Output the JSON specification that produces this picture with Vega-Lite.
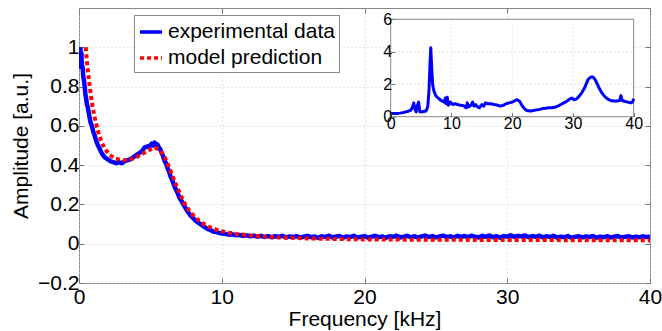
{
  "$schema": "https://vega.github.io/schema/vega-lite/v6.json",
  "width": 571,
  "height": 275,
  "autosize": {"type": "none"},
  "padding": {"left": 79, "top": 8, "right": 12, "bottom": 48},
  "background": "white",
  "config": {
    "font": "Liberation Sans",
    "view": {"stroke": "#888888", "strokeWidth": 1},
    "axis": {
      "labelFont": "Liberation Sans",
      "titleFont": "Liberation Sans",
      "labelColor": "#000000",
      "titleColor": "#000000",
      "titleFontWeight": "normal",
      "domain": false,
      "labelFlush": false,
      "tickColor": "#777777",
      "tickSize": -5,
      "gridColor": "#c8c8c8",
      "gridDash": [1, 3],
      "gridWidth": 1
    },
    "legend": {
      "labelFont": "Liberation Sans"
    }
  },
  "datasets": {
    "exp": [
      {"f":0.1,"a":1.0},{"f":0.13,"a":0.9},{"f":0.17,"a":0.97},{"f":0.2,"a":0.9},{"f":0.25,"a":0.9},{"f":0.3,"a":0.85},{"f":0.35,"a":0.83},{"f":0.4,"a":0.8},{"f":0.45,"a":0.76},{"f":0.5,"a":0.74},{"f":0.55,"a":0.71},{"f":0.6,"a":0.7},{"f":0.7,"a":0.66},{"f":0.8,"a":0.62},{"f":0.9,"a":0.6},{"f":1.0,"a":0.57},{"f":1.1,"a":0.55},{"f":1.2,"a":0.525},{"f":1.3,"a":0.505},{"f":1.4,"a":0.49},{"f":1.5,"a":0.475},{"f":1.6,"a":0.46},{"f":1.7,"a":0.45},{"f":1.8,"a":0.44},{"f":1.9,"a":0.435},{"f":2.0,"a":0.43},{"f":2.2,"a":0.42},{"f":2.4,"a":0.415},{"f":2.6,"a":0.41},{"f":2.8,"a":0.415},{"f":3.0,"a":0.41},{"f":3.2,"a":0.42},{"f":3.4,"a":0.425},{"f":3.6,"a":0.43},{"f":3.8,"a":0.44},{"f":4.0,"a":0.45},{"f":4.2,"a":0.46},{"f":4.4,"a":0.47},{"f":4.6,"a":0.49},{"f":4.8,"a":0.495},{"f":5.0,"a":0.5},{"f":5.1,"a":0.51},{"f":5.2,"a":0.5},{"f":5.3,"a":0.515},{"f":5.4,"a":0.5},{"f":5.5,"a":0.505},{"f":5.6,"a":0.49},{"f":5.7,"a":0.48},{"f":5.8,"a":0.46},{"f":5.9,"a":0.445},{"f":6.0,"a":0.42},{"f":6.1,"a":0.41},{"f":6.2,"a":0.385},{"f":6.3,"a":0.37},{"f":6.4,"a":0.345},{"f":6.5,"a":0.33},{"f":6.6,"a":0.31},{"f":6.7,"a":0.29},{"f":6.8,"a":0.275},{"f":6.9,"a":0.26},{"f":7.0,"a":0.24},{"f":7.2,"a":0.215},{"f":7.4,"a":0.19},{"f":7.6,"a":0.165},{"f":7.8,"a":0.145},{"f":8.0,"a":0.13},{"f":8.2,"a":0.115},{"f":8.4,"a":0.105},{"f":8.6,"a":0.095},{"f":8.8,"a":0.085},{"f":9.0,"a":0.075},{"f":9.2,"a":0.07},{"f":9.4,"a":0.062},{"f":9.6,"a":0.06},{"f":9.8,"a":0.055},{"f":10,"a":0.052},{"f":10.25,"a":0.05},{"f":10.5,"a":0.046},{"f":10.75,"a":0.047},{"f":11,"a":0.043},{"f":11.25,"a":0.044},{"f":11.5,"a":0.04},{"f":11.75,"a":0.042},{"f":12,"a":0.038},
      {"f":12.25,"a":0.041},{"f":12.5,"a":0.036},{"f":12.75,"a":0.04},{"f":13,"a":0.034},{"f":13.25,"a":0.039},{"f":13.5,"a":0.033},{"f":13.75,"a":0.038},{"f":14,"a":0.035},{"f":14.25,"a":0.04},{"f":14.5,"a":0.032},{"f":14.75,"a":0.037},{"f":15,"a":0.034},{"f":15.25,"a":0.039},{"f":15.5,"a":0.031},{"f":15.75,"a":0.036},{"f":16,"a":0.04},{"f":16.25,"a":0.033},{"f":16.5,"a":0.037},{"f":16.75,"a":0.03},{"f":17,"a":0.038},{"f":17.25,"a":0.034},{"f":17.5,"a":0.041},{"f":17.75,"a":0.032},{"f":18,"a":0.036},{"f":18.25,"a":0.039},{"f":18.5,"a":0.031},{"f":18.75,"a":0.037},{"f":19,"a":0.034},{"f":19.25,"a":0.04},{"f":19.5,"a":0.032},{"f":19.75,"a":0.035},{"f":20,"a":0.039},{"f":20.25,"a":0.031},{"f":20.5,"a":0.036},{"f":20.75,"a":0.04},{"f":21,"a":0.033},{"f":21.25,"a":0.037},{"f":21.5,"a":0.03},{"f":21.75,"a":0.038},{"f":22,"a":0.035},{"f":22.25,"a":0.041},{"f":22.5,"a":0.032},{"f":22.75,"a":0.036},{"f":23,"a":0.04},{"f":23.25,"a":0.033},{"f":23.5,"a":0.038},{"f":23.75,"a":0.031},{"f":24,"a":0.037},{"f":24.25,"a":0.042},{"f":24.5,"a":0.034},{"f":24.75,"a":0.039},{"f":25,"a":0.032},{"f":25.25,"a":0.037},{"f":25.5,"a":0.041},{"f":25.75,"a":0.034},{"f":26,"a":0.038},{"f":26.25,"a":0.031},{"f":26.5,"a":0.04},{"f":26.75,"a":0.035},{"f":27,"a":0.039},{"f":27.25,"a":0.033},{"f":27.5,"a":0.041},{"f":27.75,"a":0.036},{"f":28,"a":0.032},{"f":28.25,"a":0.04},{"f":28.5,"a":0.035},{"f":28.75,"a":0.042},{"f":29,"a":0.033},{"f":29.25,"a":0.038},{"f":29.5,"a":0.031},{"f":29.75,"a":0.039},{"f":30,"a":0.036},{"f":30.25,"a":0.043},{"f":30.5,"a":0.034},{"f":30.75,"a":0.04},{"f":31,"a":0.037},{"f":31.25,"a":0.042},{"f":31.5,"a":0.033},{"f":31.75,"a":0.039},{"f":32,"a":0.035},{"f":32.25,"a":0.041},{"f":32.5,"a":0.032},{"f":32.75,"a":0.038},{"f":33,"a":0.034},{"f":33.25,"a":0.04},{"f":33.5,"a":0.031},{"f":33.75,"a":0.036},{"f":34,"a":0.033},{"f":34.25,"a":0.039},{"f":34.5,"a":0.03},{"f":34.75,"a":0.035},{"f":35,"a":0.038},{"f":35.25,"a":0.032},{"f":35.5,"a":0.037},{"f":35.75,"a":0.034},{"f":36,"a":0.039},{"f":36.25,"a":0.031},{"f":36.5,"a":0.036},{"f":36.75,"a":0.033},{"f":37,"a":0.038},{"f":37.25,"a":0.032},{"f":37.5,"a":0.036},{"f":37.75,"a":0.039},{"f":38,"a":0.031},{"f":38.25,"a":0.035},{"f":38.5,"a":0.038},{"f":38.75,"a":0.032},{"f":39,"a":0.036},{"f":39.25,"a":0.033},{"f":39.5,"a":0.037},{"f":39.75,"a":0.034},{"f":40,"a":0.036}
    ],
    "model": [
      {"f":0.47,"a":1.0},{"f":0.55,"a":0.93},{"f":0.65,"a":0.86},{"f":0.75,"a":0.8},{"f":0.9,"a":0.72},{"f":1.05,"a":0.66},{"f":1.2,"a":0.61},{"f":1.4,"a":0.555},{"f":1.6,"a":0.515},{"f":1.8,"a":0.485},{"f":2.1,"a":0.455},{"f":2.5,"a":0.435},{"f":3.0,"a":0.425},{"f":3.5,"a":0.425},{"f":4.0,"a":0.44},{"f":4.5,"a":0.46},{"f":5.0,"a":0.48},{"f":5.3,"a":0.49},{"f":5.6,"a":0.48},{"f":5.9,"a":0.455},{"f":6.2,"a":0.41},{"f":6.5,"a":0.355},{"f":6.8,"a":0.3},{"f":7.1,"a":0.25},{"f":7.4,"a":0.205},{"f":7.7,"a":0.17},{"f":8.0,"a":0.145},{"f":8.4,"a":0.118},{"f":8.8,"a":0.098},{"f":9.2,"a":0.083},{"f":9.6,"a":0.072},{"f":10,"a":0.064},{"f":10.5,"a":0.056},{"f":11,"a":0.05},{"f":12,"a":0.042},{"f":13,"a":0.036},{"f":14,"a":0.032},{"f":16,"a":0.027},{"f":18,"a":0.024},{"f":20,"a":0.022},{"f":25,"a":0.02},{"f":30,"a":0.019},{"f":35,"a":0.018},{"f":40,"a":0.017}
    ],
    "inset": [
      {"f":0,"a":0.2},{"f":0.5,"a":0.2},{"f":1,"a":0.2},{"f":1.5,"a":0.22},{"f":2,"a":0.25},{"f":2.5,"a":0.3},{"f":3,"a":0.35},{"f":3.3,"a":0.4},{"f":3.6,"a":0.6},{"f":3.8,"a":0.85},{"f":4.0,"a":0.45},{"f":4.2,"a":0.3},{"f":4.4,"a":0.7},{"f":4.6,"a":0.9},{"f":4.8,"a":0.3},{"f":5.2,"a":0.3},{"f":5.8,"a":0.35},{"f":6.1,"a":0.6},{"f":6.3,"a":1.6},{"f":6.5,"a":3.5},{"f":6.6,"a":4.25},{"f":6.75,"a":3.0},{"f":6.9,"a":2.0},{"f":7.1,"a":1.6},{"f":7.4,"a":1.3},{"f":7.8,"a":1.15},{"f":8.3,"a":1.0},{"f":8.8,"a":0.9},{"f":9.0,"a":1.15},{"f":9.1,"a":0.8},{"f":9.3,"a":1.2},{"f":9.5,"a":0.7},{"f":9.8,"a":0.9},{"f":10.2,"a":0.75},{"f":10.6,"a":0.8},{"f":11,"a":0.75},{"f":11.5,"a":0.7},{"f":12,"a":0.68},{"f":12.4,"a":0.55},{"f":12.6,"a":0.85},{"f":12.8,"a":0.6},{"f":13.2,"a":0.7},{"f":13.5,"a":0.9},{"f":13.7,"a":0.65},{"f":14,"a":0.75},{"f":14.3,"a":0.6},{"f":14.6,"a":0.55},{"f":15,"a":0.75},{"f":15.3,"a":0.65},{"f":15.6,"a":0.85},{"f":16,"a":0.8},{"f":16.5,"a":0.8},{"f":17,"a":0.75},{"f":17.5,"a":0.72},{"f":18,"a":0.65},{"f":18.5,"a":0.7},{"f":19,"a":0.8},{"f":19.5,"a":0.85},{"f":20,"a":0.9},{"f":20.5,"a":1.0},{"f":20.8,"a":1.05},{"f":21.2,"a":0.95},{"f":21.6,"a":0.7},{"f":22,"a":0.5},{"f":22.4,"a":0.38},{"f":23,"a":0.35},{"f":23.5,"a":0.38},{"f":24,"a":0.42},{"f":24.5,"a":0.45},{"f":25,"a":0.5},{"f":25.5,"a":0.52},{"f":26,"a":0.55},{"f":26.5,"a":0.55},{"f":27,"a":0.58},{"f":27.5,"a":0.65},{"f":28,"a":0.75},{"f":28.5,"a":0.85},{"f":29,"a":0.95},{"f":29.5,"a":1.1},{"f":29.8,"a":1.15},{"f":30.2,"a":1.05},{"f":30.6,"a":1.1},{"f":31,"a":1.25},{"f":31.5,"a":1.5},{"f":32,"a":1.85},{"f":32.5,"a":2.3},{"f":33,"a":2.45},{"f":33.3,"a":2.45},{"f":33.7,"a":2.25},{"f":34.2,"a":1.85},{"f":34.7,"a":1.5},{"f":35.2,"a":1.25},{"f":35.7,"a":1.1},{"f":36.2,"a":1.0},{"f":36.7,"a":0.97},{"f":37.3,"a":0.97},{"f":37.7,"a":1.0},{"f":37.9,"a":1.3},{"f":38.1,"a":1.0},{"f":38.5,"a":0.95},{"f":39,"a":0.9},{"f":39.5,"a":0.85},{"f":39.8,"a":0.9},{"f":40,"a":1.1}
    ],
    "frame": [{"x": 0, "x2": 40, "y": 0, "y2": 6}],
    "vgrid": [{"x": 10}, {"x": 20}, {"x": 30}],
    "hgrid": [{"y": 2}, {"y": 4}]
  },
  "layer": [
    {
      "data": {"name": "exp"},
      "mark": {"type": "line", "strokeWidth": 4.5, "strokeJoin": "round", "clip": true},
      "encoding": {
        "x": {"field": "f", "type": "quantitative", "scale": {"domain": [0, 40], "nice": false, "zero": false},
          "axis": {"orient": "bottom", "values": [0, 10, 20, 30, 40], "grid": true, "labelFontSize": 21, "labelPadding": 8, "title": "Frequency [kHz]", "titleFontSize": 21, "titlePadding": 1}},
        "y": {"field": "a", "type": "quantitative", "scale": {"domain": [-0.2, 1.2], "nice": false, "zero": false},
          "axis": {"orient": "left", "values": [-0.2, 0, 0.2, 0.4, 0.6, 0.8, 1], "format": "~g", "grid": true, "labelFontSize": 21, "labelPadding": 5, "title": "Amplitude [a.u.]", "titleFontSize": 21, "titlePadding": 6}},
        "color": {"datum": "experimental data", "type": "nominal", "scale": {"domain": ["experimental data", "model prediction"], "range": ["#0000ff", "#ff0000"]},
          "legend": {"title": null, "orient": "none", "legendX": 55, "legendY": 7, "fillColor": "white", "strokeColor": "#888888", "padding": 4, "labelFontSize": 21, "labelOffset": 4, "symbolType": "stroke", "symbolSize": 484, "symbolStrokeWidth": 3.5, "rowPadding": 3, "labelLimit": 400}},
        "strokeDash": {"datum": "experimental data", "type": "nominal", "scale": {"domain": ["experimental data", "model prediction"], "range": [[1, 0], [4, 3]]},
          "legend": {"title": null, "orient": "none", "legendX": 55, "legendY": 7, "fillColor": "white", "strokeColor": "#888888", "padding": 4, "labelFontSize": 21, "labelOffset": 4, "symbolType": "stroke", "symbolSize": 484, "symbolStrokeWidth": 3.5, "rowPadding": 3, "labelLimit": 400}}
      }
    },
    {
      "data": {"name": "model"},
      "mark": {"type": "line", "strokeWidth": 4, "strokeCap": "butt", "clip": true},
      "encoding": {
        "x": {"field": "f", "type": "quantitative", "scale": {"domain": [0, 40], "nice": false, "zero": false},
          "axis": {"orient": "top", "values": [0, 10, 20, 30, 40], "grid": false, "labels": false, "title": null}},
        "y": {"field": "a", "type": "quantitative", "scale": {"domain": [-0.2, 1.2], "nice": false, "zero": false},
          "axis": {"orient": "right", "values": [-0.2, 0, 0.2, 0.4, 0.6, 0.8, 1], "grid": false, "labels": false, "title": null}},
        "color": {"datum": "model prediction", "type": "nominal"},
        "strokeDash": {"datum": "model prediction", "type": "nominal"}
      }
    },
    {
      "data": {"name": "frame"},
      "mark": {"type": "rect", "fill": "white", "stroke": "#888888", "strokeWidth": 1},
      "encoding": {
        "x": {"field": "x", "type": "quantitative", "scale": {"domain": [0, 40], "range": [311.7, 554.7], "nice": false, "zero": false}, "axis": null},
        "x2": {"field": "x2"},
        "y": {"field": "y", "type": "quantitative", "scale": {"domain": [0, 6], "range": [108.7, 11.3], "nice": false, "zero": false}, "axis": null},
        "y2": {"field": "y2"}
      }
    },
    {
      "data": {"name": "vgrid"},
      "mark": {"type": "rule", "color": "#c8c8c8", "strokeWidth": 1, "strokeDash": [1, 3]},
      "encoding": {
        "x": {"field": "x", "type": "quantitative", "scale": {"domain": [0, 40], "range": [311.7, 554.7], "nice": false, "zero": false}, "axis": null},
        "y": {"datum": 0, "type": "quantitative", "scale": {"domain": [0, 6], "range": [108.7, 11.3], "nice": false, "zero": false}, "axis": null},
        "y2": {"datum": 6}
      }
    },
    {
      "data": {"name": "hgrid"},
      "mark": {"type": "rule", "color": "#c8c8c8", "strokeWidth": 1, "strokeDash": [1, 3]},
      "encoding": {
        "y": {"field": "y", "type": "quantitative", "scale": {"domain": [0, 6], "range": [108.7, 11.3], "nice": false, "zero": false}, "axis": null},
        "x": {"datum": 0, "type": "quantitative", "scale": {"domain": [0, 40], "range": [311.7, 554.7], "nice": false, "zero": false}, "axis": null},
        "x2": {"datum": 40}
      }
    },
    {
      "data": {"name": "inset"},
      "mark": {"type": "line", "color": "#0000ff", "strokeWidth": 3, "strokeJoin": "round"},
      "encoding": {
        "x": {"field": "f", "type": "quantitative", "scale": {"domain": [0, 40], "range": [311.7, 554.7], "nice": false, "zero": false},
          "axis": {"orient": "bottom", "offset": -166.3, "values": [0, 10, 20, 30, 40], "grid": false, "zindex": 1, "tickSize": -4, "labelFontSize": 16, "labelPadding": 3, "title": null}},
        "y": {"field": "a", "type": "quantitative", "scale": {"domain": [0, 6], "range": [108.7, 11.3], "nice": false, "zero": false},
          "axis": {"orient": "left", "offset": -311.7, "values": [0, 2, 4, 6], "grid": false, "zindex": 1, "tickSize": -4, "labelFontSize": 16, "labelPadding": 3, "title": null}}
      }
    }
  ],
  "resolve": {"scale": {"x": "independent", "y": "independent"}, "axis": {"x": "independent", "y": "independent"}}
}
